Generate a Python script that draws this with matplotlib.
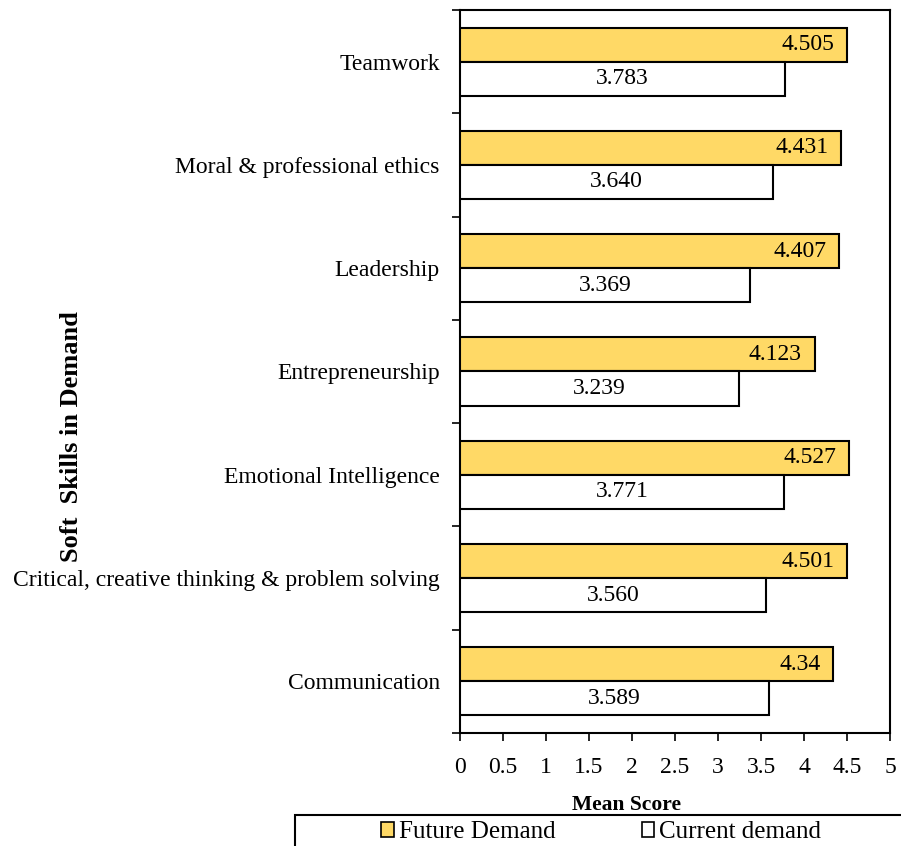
import numpy as np
import matplotlib.pyplot as plt
from matplotlib.patches import Patch, Rectangle
from matplotlib import rcParams
rcParams.update({'font.size': 17, 'font.family': 'serif', 'font.serif': ['Liberation Serif']})

# Soft skills, listed from bottom to top of the chart
skills = ['Communication',
          'Critical, creative thinking & problem solving',
          'Emotional Intelligence',
          'Entrepreneurship',
          'Leadership',
          'Moral & professional ethics',
          'Teamwork']
future_demand = [4.34, 4.501, 4.527, 4.123, 4.407, 4.431, 4.505]
current_demand = [3.589, 3.560, 3.771, 3.239, 3.369, 3.640, 3.783]
future_labels = ['4.34', '4.501', '4.527', '4.123', '4.407', '4.431', '4.505']
current_labels = ['3.589', '3.560', '3.771', '3.239', '3.369', '3.640', '3.783']

W, H = 901, 846
fig = plt.figure(figsize=(W/100, H/100), dpi=100)
ax = fig.add_axes([460/W, 1-733/H, 430/W, 723/H])

pos = np.arange(len(skills))
bh = 0.33
gold = '#FFD966'

ax.barh(pos + bh/2, future_demand, height=bh, color=gold, edgecolor='black', linewidth=1.5, zorder=3)
ax.barh(pos - bh/2, current_demand, height=bh, color='white', edgecolor='black', linewidth=1.5, zorder=3)

for p, v, lab in zip(pos, future_demand, future_labels):
    ax.text(v - 0.15, p + bh/2, lab, ha='right', va='center', fontsize=17, zorder=4)
for p, v, lab in zip(pos, current_demand, current_labels):
    ax.text(v/2, p - bh/2, lab, ha='center', va='center', fontsize=17, zorder=4)

ax.set_xlim(0, 5)
ax.set_ylim(-0.5, len(skills) - 0.5)
ax.set_xticks(np.arange(0, 5.01, 0.5))
ax.set_xticklabels(['0', '0.5', '1', '1.5', '2', '2.5', '3', '3.5', '4', '4.5', '5'])
ax.tick_params(axis='x', direction='out', length=6, width=1.2, pad=11, labelsize=17)

# group boundaries get tick marks, category names sit between them
ax.set_yticks(np.arange(-0.5, len(skills), 1.0))
ax.set_yticklabels([])
ax.set_yticks(pos, minor=True)
ax.set_yticklabels(skills, minor=True, fontsize=17)
ax.tick_params(axis='y', which='major', direction='out', length=6, width=1.2)
ax.tick_params(axis='y', which='minor', length=0, pad=14.5)

for s in ax.spines.values():
    s.set_linewidth(1.5)

fig.text(72/W, 1-437/H, 'Soft  Skills in Demand', rotation=90, ha='center', va='center',
         fontsize=19, fontweight='bold')
fig.text(627/W, 1-805/H, 'Mean Score', ha='center', va='center', fontsize=15.5, fontweight='bold')

# legend box runs off the lower right edge of the figure
fig.patches.append(Rectangle((295/W, -0.05), 1.0, 0.05 + 1 - 815/H, transform=fig.transFigure,
                             facecolor='white', edgecolor='black', linewidth=1.5, zorder=5))
handles = [Patch(facecolor=gold, edgecolor='black', linewidth=1.2, label='Future Demand'),
           Patch(facecolor='white', edgecolor='black', linewidth=1.2, label='Current demand')]
leg = fig.legend(handles=handles, loc='upper left', bbox_to_anchor=(375/W, 1-815/H), ncol=2,
                 frameon=False, fontsize=18, handlelength=0.5, handleheight=0.5,
                 handletextpad=0.2, columnspacing=3.45, borderaxespad=0, borderpad=0.25)
leg.set_zorder(6)

fig.savefig('out.png', dpi=100)
